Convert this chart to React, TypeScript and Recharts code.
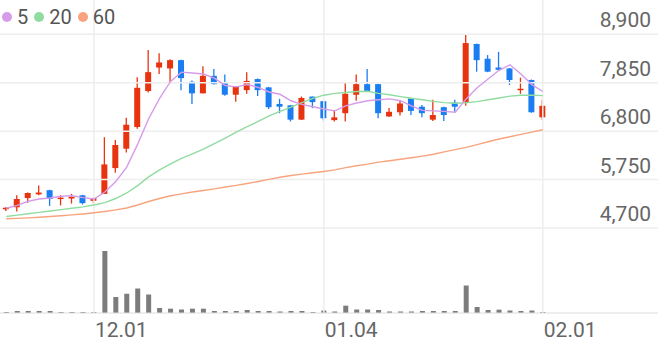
import { ComposedChart, Bar, Line, XAxis, YAxis, ReferenceLine } from "recharts"

const dates = [
  "11.19", "11.20", "11.23", "11.24", "11.25", "11.26", "11.27", "11.30",
  "12.01", "12.02", "12.03", "12.04", "12.07", "12.08", "12.09", "12.10", "12.11",
  "12.14", "12.15", "12.16", "12.17", "12.18", "12.21", "12.22", "12.23", "12.24",
  "12.28", "12.29", "12.30",
  "01.04", "01.05", "01.06", "01.07", "01.08", "01.11", "01.12", "01.13", "01.14", "01.15",
  "01.18", "01.19", "01.20", "01.21", "01.22", "01.25", "01.26", "01.27", "01.28", "01.29",
  "02.01",
]

const opens = [
  5110, 5150, 5350, 5430, 5520, 5330, 5340, 5410, 5290, 5440,
  6000, 6420, 6890, 7670, 8180, 8160, 8340, 7870, 7620, 8000,
  7840, 7590, 7690, 7930, 7750, 7390, 7360, 7050, 7550, 7450,
  7040, 7190, 7590, 7820, 7820, 7120, 7210, 7510, 7330, 7050,
  7320, 7420, 7430, 8690, 8370, 8180, 8160, 7690, 7910, 7100,
]
const highs = [
  5150, 5410, 5470, 5620, 5530, 5410, 5440, 5420, 5360, 6670,
  6610, 7090, 7970, 8560, 8490, 8360, 8350, 7900, 8210, 8150,
  8030, 7780, 8080, 7940, 7760, 7500, 7370, 7550, 7550, 7460,
  7260, 7860, 8030, 8150, 7830, 7300, 7460, 7510, 7370, 7480,
  7330, 7480, 8890, 8700, 8450, 8520, 8170, 7960, 7920, 7480,
]
const lows = [
  5070, 5060, 5250, 5410, 5180, 5190, 5230, 5210, 5230, 5440,
  5900, 6340, 6850, 7640, 8040, 7860, 7690, 7390, 7620, 7810,
  7570, 7440, 7610, 7560, 7280, 7190, 7010, 7040, 7300, 7030,
  7010, 7010, 7460, 7660, 7080, 7110, 7140, 7150, 7100, 7020,
  7020, 7220, 7350, 8090, 8080, 8110, 7800, 7610, 7200, 7040,
]
const closes = [
  5140, 5330, 5460, 5470, 5330, 5360, 5380, 5240, 5350, 6080,
  6500, 6940, 7740, 8080, 8290, 8340, 7950, 7620, 8000, 7820,
  7590, 7770, 7890, 7690, 7320, 7330, 7050, 7520, 7430, 7080,
  7100, 7610, 7820, 7670, 7190, 7220, 7400, 7240, 7190, 7150,
  7150, 7330, 8710, 8340, 8090, 8130, 7910, 7720, 7210, 7350,
]

const ma5 = [
  5130, 5190, 5280, 5330, 5350, 5390, 5400, 5360, 5330, 5480,
  5710, 6020, 6520, 7070, 7510, 7880, 8080, 8060, 8040, 7950,
  7790, 7760, 7810, 7750, 7650, 7600, 7460, 7380, 7330, 7280,
  7240, 7350, 7410, 7460, 7480, 7500, 7460, 7350, 7250, 7240,
  7230, 7210, 7500, 7740, 7930, 8120, 8240, 8040, 7810, 7660,
]
const ma20 = [
  4950, 4980, 5010, 5040, 5070, 5100, 5130, 5160, 5200, 5250,
  5340, 5460, 5620, 5810, 5960, 6090, 6210, 6310, 6410, 6530,
  6650, 6780, 6900, 7010, 7130, 7230, 7320, 7420, 7510, 7580,
  7620, 7640, 7660, 7665, 7620, 7590, 7550, 7515, 7480, 7445,
  7420, 7405, 7415, 7440, 7480, 7520, 7560, 7580, 7580, 7570,
]
const ma60 = [
  4900, 4910, 4920, 4935, 4950, 4965, 4985, 5005, 5030, 5060,
  5095, 5135, 5200, 5275, 5340, 5400, 5440, 5480, 5515, 5550,
  5590, 5625, 5665, 5710, 5755, 5800, 5840, 5870, 5900, 5925,
  5960, 6010, 6050, 6085, 6130, 6160, 6190, 6225, 6260, 6300,
  6350, 6400, 6450, 6510, 6570, 6630, 6680, 6730, 6780, 6830,
]

const volumes = [
  30000, 60000, 60000, 60000, 60000, 30000, 30000, 30000, 30000, 1860000,
  480000, 580000, 735000, 555000, 150000, 130000, 105000, 130000, 130000, 60000,
  60000, 60000, 90000, 60000, 60000, 45000, 60000, 60000, 30000, 75000,
  45000, 220000, 105000, 105000, 90000, 45000, 45000, 45000, 60000, 60000,
  60000, 60000, 825000, 180000, 90000, 100000, 75000, 60000, 75000, 30000,
]

const priceTicks = [8900, 7850, 6800, 5750, 4700]
const dateTicks = ["12.01", "01.04", "02.01"]

const RED = "#e8330f"
const BLUE = "#1a7ef2"
const GRID = "#eeeeee"
const TEXT = "#666"

const data = dates.map((d, i) => ({
  idx: i,
  date: d,
  open: opens[i],
  high: highs[i],
  low: lows[i],
  close: closes[i],
  range: [lows[i], highs[i]],
  ma5: ma5[i],
  ma20: ma20[i],
  ma60: ma60[i],
  vol: volumes[i],
}))

const tickIdx = dateTicks.map((t) => dates.indexOf(t))

function Candle(props: any) {
  const { x, y, width, height, payload } = props
  if (!payload) return null
  const { open, close, high, low } = payload
  const color = close >= open ? RED : BLUE
  const top = Math.min(y, y + height)
  const h = Math.abs(height)
  const k = h / (high - low)
  const py = (v: number) => top + (high - v) * k
  const cx = x + width / 2
  const bodyTop = py(Math.max(open, close))
  const bodyH = Math.max(1.5, Math.abs(py(open) - py(close)))
  return (
    <g>
      <line x1={cx} x2={cx} y1={top} y2={top + h} stroke={color} strokeWidth={1.3} />
      <rect x={x} y={bodyTop} width={width} height={bodyH} fill={color} />
    </g>
  )
}

function DateTick(props: any) {
  const { x, payload } = props
  return (
    <text x={x + 1} y={337} fill={TEXT} fontSize={21} fontFamily="Roboto" textAnchor="start">
      {dates[payload.value]}
    </text>
  )
}

const legend = [
  { label: "5", color: "#d69ce9" },
  { label: "20", color: "#90dca0" },
  { label: "60", color: "#f7a47e" },
]

export default function App() {
  return (
    <div style={{ position: "absolute", left: 0, top: 0, width: 658, height: 342, fontFamily: "Roboto" }}>
      <ComposedChart width={658} height={342} data={data} margin={{ top: 0, right: 0, bottom: 0, left: 0 }}>
        <XAxis
          xAxisId="p"
          dataKey="idx"
          type="number"
          domain={[-0.575, 59.52]}
          allowDataOverflow
          ticks={tickIdx}
          tick={<DateTick />}
          tickLine={false}
          axisLine={{ stroke: "#dddddd" }}
          height={29}
          interval={0}
        />
        <XAxis xAxisId="v" dataKey="idx" type="number" domain={[-0.575, 59.52]} allowDataOverflow hide />
        <YAxis yAxisId="price" type="number" domain={[2858, 9644]} allowDataOverflow hide />
        <YAxis yAxisId="vol" type="number" domain={[0, 9390000]} allowDataOverflow hide />

        {priceTicks.map((p) => (
          <ReferenceLine
            key={p}
            xAxisId="p"
            yAxisId="price"
            y={p}
            stroke={GRID}
            strokeWidth={1.5}
            label={{
              value: p.toLocaleString("en-US"),
              position: "insideBottomRight",
              offset: 7,
              fill: TEXT,
              fontSize: 21,
              fontFamily: "Roboto",
            }}
          />
        ))}
        {tickIdx.map((i) => (
          <ReferenceLine key={i} xAxisId="p" yAxisId="price" x={i} stroke={GRID} strokeWidth={1.5} />
        ))}

        <Bar xAxisId="v" yAxisId="vol" dataKey="vol" fill="#7c7c7c" barSize={5} isAnimationActive={false} />

        <Line xAxisId="p" yAxisId="price" dataKey="ma60" stroke="#f7a47e" strokeWidth={1.4} dot={false} activeDot={false} isAnimationActive={false} />
        <Line xAxisId="p" yAxisId="price" dataKey="ma20" stroke="#90dca0" strokeWidth={1.4} dot={false} activeDot={false} isAnimationActive={false} />
        <Line xAxisId="p" yAxisId="price" dataKey="ma5" stroke="#d69ce9" strokeWidth={1.4} dot={false} activeDot={false} isAnimationActive={false} />

        <Bar xAxisId="p" yAxisId="price" dataKey="range" barSize={6} shape={<Candle />} isAnimationActive={false} />
      </ComposedChart>

      <div style={{ position: "absolute", left: 2, top: 5, display: "flex", alignItems: "center", fontSize: 20, lineHeight: "24px", color: "#555" }}>
        {legend.map((l) => (
          <span key={l.label} style={{ display: "flex", alignItems: "center", marginRight: 6 }}>
            <span style={{ width: 10, height: 10, borderRadius: 5, background: l.color, display: "inline-block", marginRight: 5 }} />
            {l.label}
          </span>
        ))}
      </div>
    </div>
  )
}
